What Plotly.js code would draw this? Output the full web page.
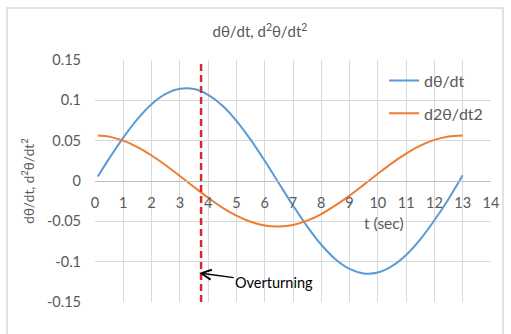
<!DOCTYPE html>
<html><head><meta charset="utf-8">
<script src="https://cdn.plot.ly/plotly-3.0.1.min.js"></script>
<style>html,body{margin:0;padding:0;background:#fff}#c{width:511px;height:334px}</style>
</head><body><div id="c"></div>
<script>
var t = [0.1,0.5,1,1.5,2,2.5,3,3.5,4,4.5,5,5.5,6,6.5,7,7.5,8,8.5,9,9.5,10,10.5,11,11.5,12,12.5,13];
var dtheta = [0.0056,0.0277,0.0538,0.0768,0.0952,0.1079,0.1143,0.1140,0.1069,0.0935,0.0746,0.0513,0.0250,-0.0028,-0.0304,-0.0562,-0.0790,-0.0969,-0.1089,-0.1146,-0.1135,-0.1056,-0.0918,-0.0724,-0.0487,-0.0222,0.0070];
var d2theta = [0.0565,0.0550,0.0500,0.0420,0.0316,0.0196,0.0062,-0.0074,-0.0208,-0.0330,-0.0430,-0.0506,-0.0552,-0.0564,-0.0545,-0.0492,-0.0410,-0.0303,-0.0182,-0.0048,0.0090,0.0222,0.0339,0.0438,0.0510,0.0553,0.0565];
var overturnT = [3.75, 3.75];
var overturnY = [-0.15, 0.15];
var names = ['dθ/dt', 'd2θ/dt2'];
var xTicks = [0,1,2,3,4,5,6,7,8,9,10,11,12,13,14];
var yTicks = [-0.15,-0.1,-0.05,0,0.05,0.1,0.15];
var yTickText = ['-0.15','-0.1','-0.05','0','0.05','0.1','0.15'];

var fnt = 'Lato, "Open Sans", sans-serif';
var grey = '#595959';
var traces = [
  {x:t, y:dtheta, name:names[0], mode:'lines', line:{color:'#5b9bd5', width:2, shape:'spline'}, legendgroup:'a'},
  {x:t, y:d2theta, name:names[1], mode:'lines', line:{color:'#ed7d31', width:2, shape:'spline'}, legendgroup:'b'},
  {x:overturnT, y:overturnY, mode:'lines', showlegend:false, line:{color:'#d9262b', width:2.5, dash:'7px,4px'}}
];
var layout = {
  width:511, height:334,
  margin:{l:95, r:20, t:60, b:32},
  paper_bgcolor:'#fff', plot_bgcolor:'#fff',
  font:{family:fnt, size:13, color:grey},
  title:{text:'dθ/dt, d<sup>2</sup>θ/dt<sup>2</sup>', x:260/511, xref:'container', xanchor:'center', y:0.905, yref:'container', yanchor:'middle', font:{family:fnt, size:15, color:grey}},
  xaxis:{range:[0,14], tickvals:xTicks, ticktext:xTicks.map(String), showgrid:true, gridcolor:'#d9d9d9', gridwidth:1,
         zeroline:false, showline:true, linecolor:'#bfbfbf', anchor:'free', position:0.5, ticks:'', ticklabelstandoff:9, tickfont:{size:14.5, color:grey}, fixedrange:true},
  yaxis:{range:[-0.15,0.15], tickvals:yTicks, ticktext:yTickText, showgrid:true, gridcolor:'#d9d9d9', gridwidth:1,
         zeroline:false, showline:false, ticks:'', ticklabelstandoff:13, tickfont:{size:14.5, color:grey}, automargin:true,
         title:{text:'dθ/dt, d<sup>2</sup>θ/dt<sup>2</sup>', standoff:9, font:{size:13.5, color:grey}}},
  legend:{x:0.73, y:0.985, xanchor:'left', yanchor:'top', bgcolor:'rgba(0,0,0,0)', font:{size:16, color:grey}, tracegroupgap:9, itemwidth:30},
  annotations:[
    {x:10.2, y:-0.052, xref:'x', yref:'y', text:'t (sec)', showarrow:false, font:{size:15.5, color:grey}},
    {x:overturnT[0]-0.1, y:-0.114, xref:'x', yref:'y', text:'Overturning', showarrow:true, arrowhead:5, arrowsize:1.3, arrowwidth:1.5, arrowcolor:'#000',
     ax:76, ay:10, font:{size:14.5, color:'#000'}, standoff:1}
  ],
  shapes:[
    {type:'rect', xref:'paper', yref:'paper', x0:(7-95)/396, x1:(503-95)/396, y0:(302-345)/242, y1:(302-8)/242, line:{color:'#d9d9d9', width:1.5}, fillcolor:'rgba(0,0,0,0)', layer:'below'}
  ],
  showlegend:true
};
Plotly.newPlot('c', traces, layout, {displayModeBar:false, staticPlot:true});
</script></body></html>
